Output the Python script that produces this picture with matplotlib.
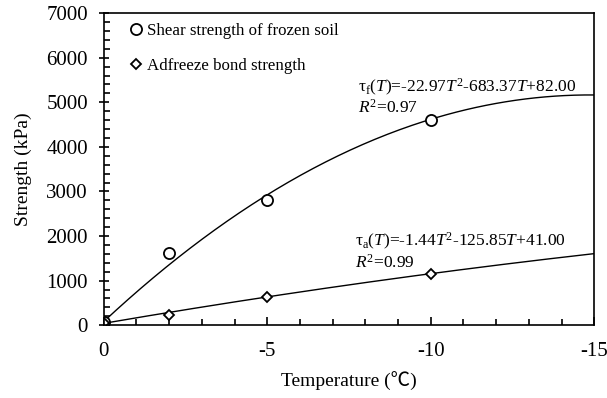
import numpy as np
import matplotlib
matplotlib.use('Agg')
import matplotlib.pyplot as plt
from matplotlib.ticker import MultipleLocator

plt.rcParams['font.family'] = ['Liberation Serif', 'Noto Sans CJK SC', 'DejaVu Sans']
plt.rcParams['mathtext.fontset'] = 'custom'
plt.rcParams['mathtext.rm'] = 'Liberation Serif'
plt.rcParams['mathtext.it'] = 'Liberation Serif:italic'
plt.rcParams['axes.unicode_minus'] = False

# measured points
temp = [0, -2, -5, -10]
shear = [75, 1610, 2800, 4600]
adfreeze = [50, 225, 640, 1145]

# fitted quadratic coefficients (a, b, c) from the labels
fit_shear = [-22.97, -683.37, 82.00]
fit_adfreeze = [-1.44, -125.85, 41.00]

T = np.linspace(0, -15, 200)
fs = np.polyval(fit_shear, T)
fa = np.polyval(fit_adfreeze, T)

fig = plt.figure(figsize=(6.07, 3.98), dpi=100)
ax = fig.add_axes([0.171, 0.183, 0.808, 0.784])

ax.plot(T, fs, color='black', lw=1)
ax.plot(T, fa, color='black', lw=1)
ax.plot(temp, shear, 'o', mfc='white', mec='black', mew=1.3, ms=8,
        label='Shear strength of frozen soil')
ax.plot(temp, adfreeze, 'D', mfc='white', mec='black', mew=1.3, ms=5.5,
        label='Adfreeze bond strength')

ax.set_xlim(0, -15)
ax.set_ylim(0, 7000)
ax.xaxis.set_major_locator(MultipleLocator(5))
ax.xaxis.set_minor_locator(MultipleLocator(1))
ax.yaxis.set_major_locator(MultipleLocator(1000))
ax.yaxis.set_minor_locator(MultipleLocator(200))
ax.tick_params(axis='x', which='major', direction='in', length=6, width=1.2, labelsize=15, pad=12)
ax.tick_params(axis='x', which='minor', direction='in', length=4, width=1.2)
ax.tick_params(axis='y', which='major', direction='inout', length=7, width=1.2, labelsize=15, pad=8)
ax.tick_params(axis='y', which='minor', direction='in', length=4, width=1.2)
for s in ax.spines.values():
    s.set_linewidth(1.2)

ax.set_xlabel('Temperature (℃)', fontsize=14, labelpad=8)
ax.set_ylabel('Strength (kPa)', fontsize=14, labelpad=10)

ax.legend(loc='upper left', bbox_to_anchor=(0.025, 1.0), frameon=False, fontsize=12.2,
          handletextpad=0.05, borderaxespad=0.2, labelspacing=1.1, handlelength=1.2)

ax.text(-7.77, 5224, r'τ$_{\mathrm{f}}$($T$)=-22.97$T^2$-683.37$T$+82.00', fontsize=12.5, va='baseline')
ax.text(-7.77, 4770, r'$R^2$=0.97', fontsize=12.5, va='baseline')
ax.text(-7.68, 1771, r'τ$_{\mathrm{a}}$($T$)=-1.44$T^2$-125.85$T$+41.00', fontsize=12.5, va='baseline')
ax.text(-7.68, 1300, r'$R^2$=0.99', fontsize=12.5, va='baseline')

fig.savefig('out.png', dpi=100)
